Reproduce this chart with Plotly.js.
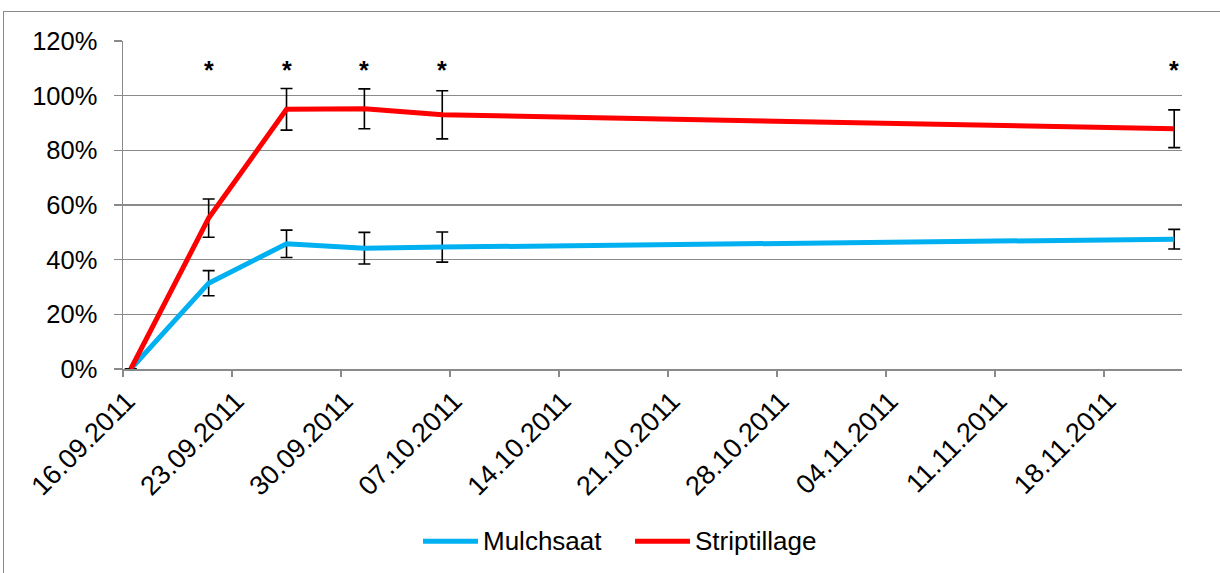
<!DOCTYPE html>
<html>
<head>
<meta charset="utf-8">
<script src="https://cdn.plot.ly/plotly-3.0.1.min.js"></script>
<style>
  html, body { margin: 0; padding: 0; overflow: hidden; background: #fff; }
  #chart { width: 1220px; height: 573px; position: absolute; left: 0; top: 0; }
  #frame { position: absolute; left: 3px; top: 11px; width: 1400px; height: 800px;
           border: 1.5px solid #8a8a8a; pointer-events: none; }
</style>
</head>
<body>
<div id="chart"></div>
<div id="frame"></div>
<script>
// Measurement dates (points are centred on their day, as in the original date axis)
const dates = ["2011-09-16", "2011-09-21", "2011-09-26", "2011-10-01", "2011-10-06", "2011-11-22"];
const mulchsaat = [0, 0.314, 0.458, 0.442, 0.446, 0.475];
const mulchsaatErr = [null, 0.046, 0.050, 0.058, 0.055, 0.036];
const striptillage = [0, 0.552, 0.950, 0.952, 0.930, 0.879];
const striptillageErr = [null, 0.070, 0.076, 0.073, 0.088, 0.069];
// Significance markers
const sigDates = ["2011-09-21", "2011-09-26", "2011-10-01", "2011-10-06", "2011-11-22"];
const sigLevel = 1.10;
const axisStart = "2011-09-16";
const axisEnd = "2011-11-23";
const seriesNames = ["Mulchsaat", "Striptillage"];
const seriesColors = ["#00B0F0", "#FF0000"];

const noon = d => d + " 12:00";
const FONT = "Liberation Sans, Arial, sans-serif";

const errStyle = { type: "data", visible: true, color: "#000000", thickness: 1.6, width: 6 };

const traces = [
  {
    name: seriesNames[0], type: "scatter", mode: "lines",
    x: dates.map(noon), y: mulchsaat,
    line: { color: seriesColors[0], width: 5 },
    error_y: Object.assign({ array: mulchsaatErr }, errStyle),
    hoverinfo: "skip"
  },
  {
    name: seriesNames[1], type: "scatter", mode: "lines",
    x: dates.map(noon), y: striptillage,
    line: { color: seriesColors[1], width: 5 },
    error_y: Object.assign({ array: striptillageErr }, errStyle),
    hoverinfo: "skip"
  }
];

const annotations = sigDates.map(d => ({
  x: noon(d), y: sigLevel, xref: "x", yref: "y",
  text: "<b>*</b>", showarrow: false,
  font: { family: FONT, size: 25, color: "#000" },
  xanchor: "center", yanchor: "middle", yshift: -2
}));

// Custom legend (line samples + labels), placed below the plot in paper coordinates
const legY = -0.525;
const legendItems = [
  { x0: 0.2833, x1: 0.3352, tx: 0.3380 },
  { x0: 0.4835, x1: 0.5354, tx: 0.5382 }
];
const shapes = [];
legendItems.forEach((it, i) => {
  shapes.push({
    type: "line", xref: "paper", yref: "paper",
    x0: it.x0, x1: it.x1, y0: legY, y1: legY,
    line: { color: seriesColors[i], width: 5 }
  });
  annotations.push({
    xref: "paper", yref: "paper", x: it.tx, y: legY,
    text: seriesNames[i], showarrow: false,
    xanchor: "left", yanchor: "middle",
    font: { family: FONT, size: 26, color: "#000" }
  });
});

const layout = {
  width: 1220, height: 573,
  margin: { l: 123, r: 38, t: 41, b: 204, pad: 0 },
  paper_bgcolor: "#ffffff", plot_bgcolor: "#ffffff",
  font: { family: FONT, color: "#000000" },
  showlegend: false,
  xaxis: {
    type: "date",
    range: [axisStart, axisEnd],
    tick0: axisStart, dtick: 7 * 86400000,
    tickformat: "%d.%m.%Y",
    tickangle: -45,
    tickfont: { family: FONT, size: 27, color: "#000" },
    ticks: "outside", ticklen: 6, tickwidth: 1.5, tickcolor: "#8a8a8a",
    ticklabelshift: 4, ticklabelstandoff: -2,
    showline: true, linecolor: "#8a8a8a", linewidth: 1.5,
    showgrid: false, zeroline: false, fixedrange: true
  },
  yaxis: {
    range: [0, 1.2],
    dtick: 0.2, tick0: 0,
    tickformat: ".0%",
    tickfont: { family: FONT, size: 25.5, color: "#000" },
    ticks: "outside", ticklen: 8, tickwidth: 1.5, tickcolor: "#8a8a8a",
    ticklabelstandoff: 11,
    showline: true, linecolor: "#8a8a8a", linewidth: 1.5,
    showgrid: true, gridcolor: "#8a8a8a", gridwidth: 1.5,
    zeroline: false, fixedrange: true
  },
  shapes: shapes,
  annotations: annotations
};

Plotly.newPlot("chart", traces, layout, { displayModeBar: false, staticPlot: true });
</script>
</body>
</html>
